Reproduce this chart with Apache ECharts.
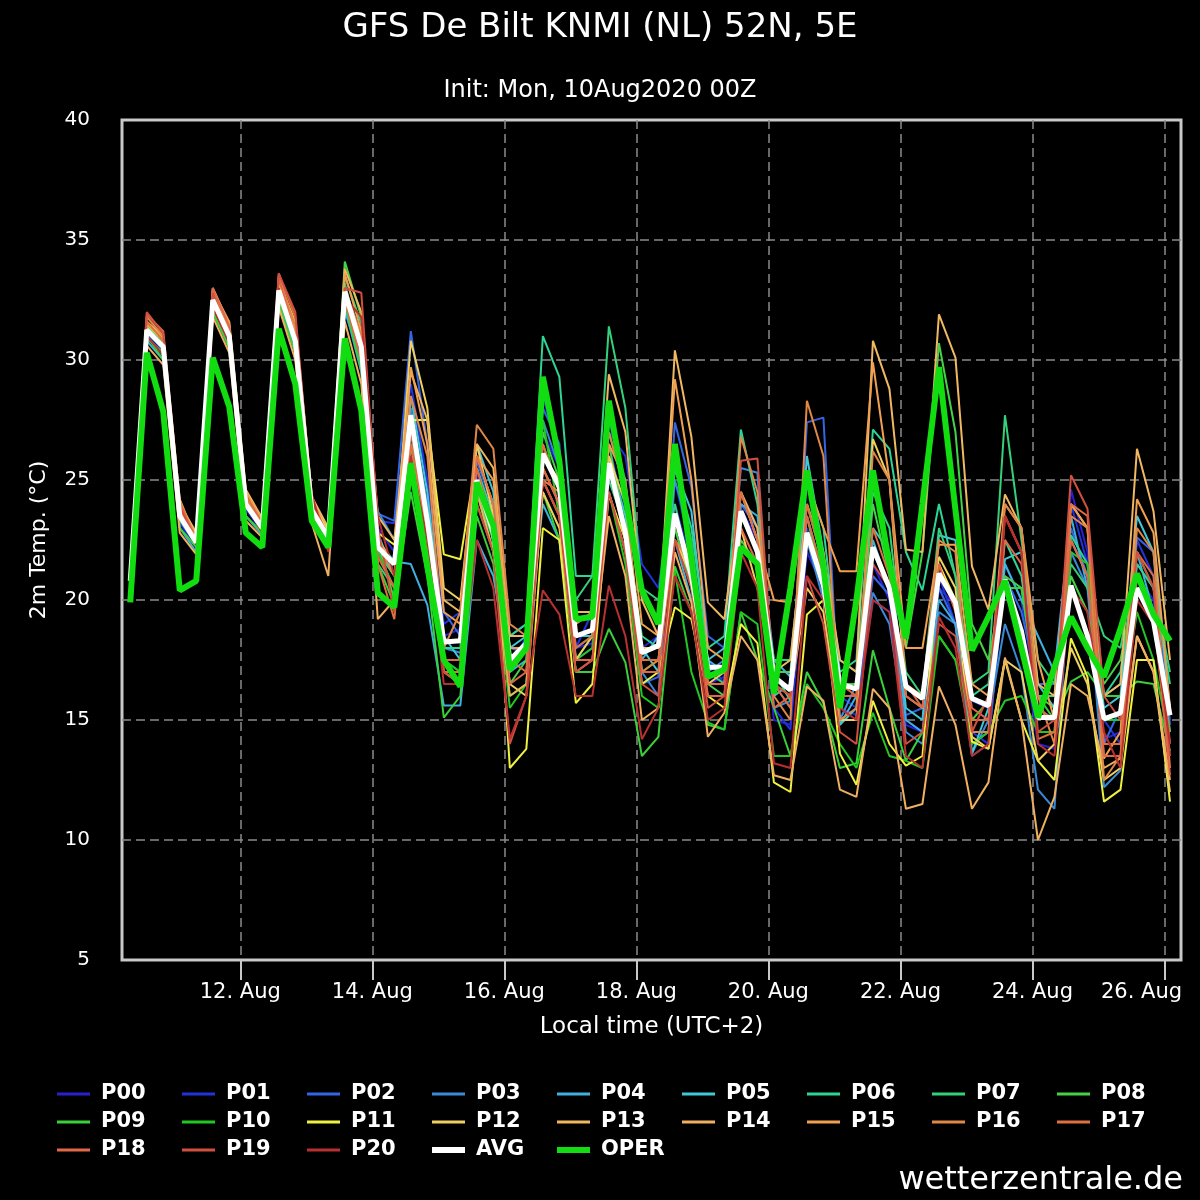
<!DOCTYPE html>
<html>
<head>
<meta charset="utf-8">
<title>GFS De Bilt KNMI (NL) 52N, 5E</title>
<script src="https://cdn.jsdelivr.net/npm/echarts@6.0.0/dist/echarts.min.js"></script>
<style>
  html, body { margin: 0; padding: 0; background: #000; }
  #chart { width: 1200px; height: 1200px; }
</style>
</head>
<body>
<div id="chart"></div>
<script>
// local time (UTC+2), hours after 10 Aug 2020 00:00
var hours = [8, 14, 20, 26, 32, 38, 44, 50, 56, 62, 68, 74, 80, 86, 92, 98,
  104, 110, 116, 122, 128, 134, 140, 146, 152, 158, 164, 170, 176, 182, 188, 194,
  200, 206, 212, 218, 224, 230, 236, 242, 248, 254, 260, 266, 272, 278, 284, 290,
  296, 302, 308, 314, 320, 326, 332, 338, 344, 350, 356, 362, 368, 374, 380, 386];

var tickHours = [48, 96, 144, 192, 240, 288, 336, 384];
var tickLabels = ['12. Aug', '14. Aug', '16. Aug', '18. Aug', '20. Aug', '22. Aug', '24. Aug', '26. Aug'];

var memberNames = ['P00', 'P01', 'P02', 'P03', 'P04', 'P05', 'P06', 'P07', 'P08', 'P09', 'P10',
  'P11', 'P12', 'P13', 'P14', 'P15', 'P16', 'P17', 'P18', 'P19', 'P20'];
var memberColors = ['#2a20d0', '#2233dd', '#3366e4', '#3a8ad8', '#3fb0e0', '#40c8d8', '#2ed494',
  '#33d27a', '#46d246', '#3ad03a', '#22c822', '#f0f040', '#f0d060', '#f0b860', '#f0b060',
  '#f0a050', '#e08848', '#e07040', '#e06848', '#d05040', '#b83030'];

// 2m temperature per member, 4 values per day (08, 14, 20, 02 local)
var p00 = [20.6,31.0,30.3,23.2, 22.2,32.2,30.8,23.8, 22.8,32.6,30.5,23.5, 22.3,32.3,29.8,23.0, 22.0,27.0,23.5,18.5, 18.8,25.2,23.0,17.2, 18.0,27.0,25.5,18.0, 18.2,26.5,23.5,18.0, 18.5,24.0,21.5,16.5, 16.8,23.8,22.5,15.0, 14.8,22.0,20.5,15.5, 15.2,21.5,20.0,14.8, 14.5,20.5,19.8,15.8, 15.5,21.0,18.5,14.0, 13.8,24.6,22.0,14.2, 14.5,21.0,20.0,15.0];
var p01 = [20.9,31.4,30.6,23.4, 22.5,32.4,31.0,23.9, 23.1,32.8,30.7,23.6, 22.8,32.5,30.2,23.3, 23.2,29.0,25.0,19.0, 19.5,25.5,23.5,17.0, 18.5,28.5,26.0,18.0, 19.5,27.0,26.0,21.5, 20.5,25.0,22.0,17.5, 16.5,24.5,23.0,15.5, 14.6,23.0,21.0,16.0, 15.5,20.0,19.5,15.0, 14.5,21.0,19.0,14.5, 14.0,21.5,20.0,15.5, 15.0,24.0,21.5,15.0, 14.0,22.5,21.0,15.2];
var p02 = [20.7,31.1,30.5,23.6, 22.4,32.6,31.1,24.2, 23.2,33.0,30.9,23.9, 22.9,33.0,29.5,23.6, 23.3,31.2,26.5,19.5, 18.5,25.8,23.8,18.0, 17.8,28.0,26.5,17.5, 18.0,27.5,25.0,16.5, 16.8,27.4,24.7,18.5, 18.0,24.0,23.0,16.5, 15.5,27.4,27.6,15.0, 15.0,21.0,20.2,15.2, 15.5,20.5,19.0,13.5, 14.0,21.0,19.5,16.5, 16.5,23.0,21.0,14.0, 15.5,22.6,22.0,14.8];
var p03 = [20.8,31.2,30.4,23.3, 22.3,32.3,30.9,23.9, 22.9,32.7,30.6,23.5, 22.5,32.0,30.0,23.7, 22.5,28.0,24.0,18.0, 17.8,24.5,22.5,18.5, 19.0,27.5,25.5,19.0, 19.5,27.0,24.5,17.0, 16.0,25.0,22.5,17.0, 17.5,25.5,25.3,15.5, 15.8,22.5,20.0,15.0, 16.5,20.3,19.0,14.5, 14.0,19.5,19.0,13.6, 15.0,19.0,17.0,12.1, 11.3,22.0,20.5,12.2, 12.9,21.5,20.5,14.5];
var p04 = [20.9,30.8,30.0,23.0, 22.0,32.0,30.6,23.5, 22.7,32.5,30.4,23.4, 22.5,32.2,29.5,22.5, 21.6,21.5,19.8,15.6, 15.6,22.5,21.0,17.0, 17.5,24.0,22.5,18.0, 18.5,24.5,22.0,17.5, 18.5,22.5,20.0,17.5, 17.0,24.0,23.5,17.5, 16.8,23.5,21.0,14.8, 16.0,22.5,20.5,15.0, 14.5,20.0,19.0,14.0, 14.5,21.5,20.0,18.5, 17.0,23.5,20.5,16.0, 16.5,22.0,19.5,15.5];
var p05 = [20.7,31.3,30.6,23.7, 22.6,32.7,31.2,24.1, 23.0,32.9,30.8,23.8, 22.6,33.0,31.0,22.8, 21.0,28.5,24.5,18.5, 17.5,26.5,24.5,18.0, 18.5,28.8,26.0,18.5, 18.5,26.0,23.5,18.0, 17.0,25.5,23.7,17.5, 18.0,24.5,22.5,16.0, 16.5,26.0,22.0,14.8, 15.5,23.0,22.0,15.5, 15.0,22.7,22.5,13.6, 15.5,21.7,22.0,16.5, 15.5,22.5,21.0,15.5, 16.0,23.5,22.0,15.5];
var p06 = [20.6,31.0,30.2,23.5, 22.5,32.4,31.0,24.0, 23.0,32.7,30.6,23.8, 22.7,33.2,30.5,22.0, 21.0,27.0,23.0,18.0, 18.0,25.5,23.5,18.5, 19.0,31.0,29.3,21.0, 21.0,25.0,23.0,18.5, 18.0,25.5,23.0,18.0, 18.5,27.1,24.0,17.0, 15.8,25.0,23.0,17.0, 17.5,27.1,26.3,22.0, 20.4,24.0,21.0,16.0, 16.5,22.5,21.0,16.0, 16.0,22.7,21.5,16.0, 17.0,21.5,20.5,16.5];
var p07 = [20.8,31.4,30.8,23.8, 22.4,32.5,31.1,24.3, 23.1,33.0,31.2,23.9, 22.4,33.5,31.5,21.5, 20.5,26.5,22.5,17.5, 17.0,24.5,22.0,17.0, 18.0,26.5,24.5,20.0, 21.0,31.4,28.0,20.5, 20.0,24.0,21.0,17.0, 16.5,23.5,22.0,17.5, 17.5,24.0,21.5,17.5, 17.0,24.5,23.0,17.0, 16.0,23.0,21.0,16.5, 17.0,27.7,22.5,17.5, 16.5,21.5,20.5,18.5, 18.0,22.0,20.5,17.0];
var p08 = [20.5,30.9,30.3,23.4, 22.3,32.3,30.8,23.9, 22.9,32.5,30.7,23.6, 22.5,34.1,31.8,22.5, 20.0,26.0,23.5,17.5, 17.5,24.5,22.5,16.5, 17.5,27.0,25.0,17.5, 18.5,26.5,23.0,17.0, 17.5,23.0,20.5,16.5, 16.0,22.5,21.5,17.0, 17.0,23.5,20.5,16.5, 16.5,24.0,21.0,18.0, 22.0,30.7,27.0,19.0, 17.5,21.0,20.5,16.0, 15.5,21.0,19.5,16.5, 17.5,21.0,19.0,14.5];
var p09 = [20.6,31.0,30.0,23.0, 22.2,32.0,30.5,23.5, 22.8,32.3,30.3,23.3, 22.3,32.4,29.6,21.5, 19.8,24.5,21.0,15.1, 16.0,23.5,21.5,16.0, 16.5,24.5,22.5,17.0, 17.0,18.8,17.4,13.5, 14.3,21.4,19.5,14.8, 14.6,19.5,17.5,15.5, 13.5,17.0,15.7,13.0, 13.2,17.9,15.5,13.3, 14.5,18.5,17.5,15.0, 15.8,20.5,20.5,16.0, 15.0,16.6,17.0,16.0, 16.0,16.6,16.5,13.7];
var p10 = [20.7,31.2,30.7,23.6, 22.4,32.5,31.2,24.0, 23.0,32.8,30.9,23.7, 22.6,32.8,30.5,22.0, 20.5,27.5,23.0,17.5, 17.0,24.0,22.0,15.5, 16.5,27.5,23.5,17.5, 18.0,24.5,21.5,16.0, 15.5,21.2,17.0,14.9, 14.6,19.5,19.0,13.5, 13.5,16.5,15.5,14.0, 13.0,15.3,13.5,13.3, 13.0,18.5,17.5,14.0, 14.5,15.8,16.0,14.5, 14.5,22.0,21.5,15.0, 15.0,19.5,17.5,14.0];
var p11 = [21.0,31.5,30.8,23.8, 22.7,32.8,31.3,24.3, 23.3,33.1,31.2,24.0, 22.9,32.6,30.4,22.8, 22.3,27.5,27.5,21.9, 21.7,26.0,24.0,13.0, 13.8,23.0,22.5,15.7, 16.5,24.4,22.5,16.5, 17.0,19.7,19.2,16.0, 15.5,19.0,18.2,12.4, 12.0,19.4,20.0,13.6, 12.3,15.8,14.0,13.1, 13.5,21.5,20.0,14.1, 13.8,17.5,15.0,13.3, 12.5,18.4,16.8,11.6, 12.1,17.5,17.5,11.6];
var p12 = [20.9,31.5,30.9,23.7, 22.6,32.7,31.4,24.4, 23.2,33.2,31.5,24.2, 22.8,32.5,30.8,22.5, 21.5,30.8,28.0,20.5, 20.0,26.5,23.5,16.5, 16.0,24.5,23.0,17.5, 18.5,26.0,24.0,18.0, 18.0,22.5,21.0,16.5, 17.0,23.0,20.5,16.5, 16.0,20.5,19.5,15.0, 15.0,26.7,25.0,16.0, 15.5,21.8,20.5,14.3, 13.8,17.5,17.0,13.3, 14.0,18.0,16.5,12.5, 13.0,18.5,17.0,12.0];
var p13 = [21.0,31.6,31.0,24.0, 22.8,33.0,31.5,24.6, 23.4,33.3,31.6,24.3, 23.0,33.8,32.0,23.5, 22.5,29.5,27.5,20.0, 19.5,26.5,25.5,18.5, 18.5,26.0,25.0,19.5, 19.5,29.4,27.0,20.0, 18.5,30.4,26.8,19.9, 19.2,24.5,23.0,17.0, 17.5,24.0,22.0,17.5, 17.0,30.8,28.8,22.1, 22.0,31.9,30.1,21.4, 19.6,24.4,23.0,16.5, 16.0,24.0,23.0,16.0, 16.5,26.3,23.7,17.5];
var p14 = [20.5,30.6,29.8,22.8, 21.9,31.8,30.3,23.3, 22.6,32.2,30.0,23.2, 21.0,31.6,29.0,19.2, 20.0,26.5,22.5,17.0, 16.5,24.5,22.0,16.0, 16.5,25.0,23.5,17.0, 17.5,23.5,21.0,15.0, 15.5,22.0,19.9,14.3, 15.3,18.5,17.5,12.7, 12.5,16.4,15.8,12.1, 11.8,16.3,15.5,11.3, 11.5,16.4,14.8,11.3, 12.4,17.6,15.0,10.0, 11.8,16.5,16.0,13.0, 13.4,18.5,17.0,12.5];
var p15 = [20.8,31.5,30.9,24.2, 22.5,32.9,31.6,24.5, 23.3,33.5,31.3,24.0, 22.6,33.6,31.2,22.5, 21.5,29.7,26.5,19.5, 19.0,26.0,25.0,18.0, 18.0,25.5,24.0,18.5, 18.8,26.5,25.0,19.0, 18.5,29.2,25.0,18.0, 17.5,24.5,22.5,20.0, 19.9,25.0,23.0,21.2, 21.2,29.9,25.0,18.0, 18.0,22.3,22.3,16.5, 16.0,24.0,23.0,17.5, 15.0,24.0,23.0,13.4, 14.5,24.2,22.8,15.5];
var p16 = [21.0,31.8,31.0,24.0, 22.6,32.9,31.3,24.2, 23.2,33.4,31.4,23.9, 22.5,33.0,31.0,22.3, 21.0,28.5,26.0,18.0, 19.5,27.3,26.3,19.0, 18.5,25.0,24.5,19.0, 19.5,27.0,24.5,17.0, 17.5,22.5,21.5,16.5, 16.5,26.8,24.5,16.0, 15.0,28.3,26.0,15.0, 15.5,26.2,25.0,16.5, 16.0,22.5,22.0,14.5, 14.5,24.0,23.0,16.0, 14.0,23.5,23.0,12.5, 13.5,23.0,22.0,13.0];
var p17 = [20.9,31.6,30.8,23.9, 22.5,32.6,31.2,24.4, 23.2,33.6,31.8,24.3, 22.5,33.0,30.8,21.5, 19.2,26.5,23.0,17.0, 17.0,26.0,24.0,17.5, 17.0,26.5,24.5,18.0, 18.5,25.5,22.5,17.5, 17.5,23.5,21.0,16.5, 16.5,24.5,22.5,16.5, 15.5,24.0,21.5,16.5, 16.0,23.0,21.0,16.5, 15.5,21.0,20.0,15.0, 15.0,23.5,22.0,14.2, 14.5,24.0,23.5,14.0, 14.0,22.0,21.0,14.0];
var p18 = [20.7,31.9,31.2,24.1, 22.4,33.0,31.4,24.2, 23.0,33.4,31.0,23.8, 22.4,32.5,30.0,21.8, 20.5,27.0,23.5,17.5, 17.5,25.5,23.0,16.5, 17.0,25.5,24.0,17.5, 17.5,24.5,22.0,17.0, 17.0,23.5,21.5,16.0, 16.0,23.0,21.5,15.5, 16.0,23.5,21.0,16.0, 16.0,22.0,20.5,16.0, 15.5,21.5,19.5,15.5, 15.0,22.5,21.5,15.5, 15.0,22.5,21.0,13.5, 13.5,21.0,19.5,12.7];
var p19 = [21.0,32.0,31.1,23.9, 22.4,32.8,31.0,24.0, 23.0,33.6,32.0,24.0, 22.7,33.0,32.8,23.0, 19.5,25.5,22.5,17.0, 16.5,24.0,22.0,14.0, 16.0,25.0,23.5,17.0, 17.5,24.5,22.0,16.5, 16.0,22.5,20.5,15.5, 16.0,25.8,25.9,16.5, 16.0,21.0,19.0,14.5, 14.0,21.5,20.5,14.0, 14.5,19.0,18.5,14.5, 16.0,23.5,22.0,14.5, 15.0,25.2,23.8,16.0, 15.0,22.0,20.5,13.5];
var p20 = [20.6,31.0,30.2,23.6, 22.3,32.2,30.7,24.0, 22.8,33.0,31.0,24.4, 22.0,32.6,31.8,23.5, 21.0,26.0,22.5,16.5, 16.5,22.5,20.5,14.2, 16.0,20.4,19.4,16.0, 16.0,20.6,18.5,14.2, 15.5,21.0,19.5,15.0, 15.5,22.0,20.5,13.2, 13.0,21.0,20.0,15.5, 15.0,20.0,19.5,13.5, 13.0,19.3,18.0,13.5, 14.0,23.5,22.0,14.0, 13.5,20.5,19.5,14.5, 13.0,20.0,19.0,14.0];
var members = [p00, p01, p02, p03, p04, p05, p06, p07, p08, p09, p10,
  p11, p12, p13, p14, p15, p16, p17, p18, p19, p20];

var avg = [20.8,31.25,30.55,23.5, 22.4,32.5,31.0,24.0, 23.0,32.9,30.8,23.75, 22.6,32.85,30.55,22.2, 21.5,27.7,23.3,18.25, 18.3,25.0,22.8,17.5, 18.2,26.1,24.7,18.5, 18.75,25.7,22.8,17.8, 18.1,23.6,21.0,17.2, 17.2,23.7,22.0,16.8, 16.25,22.8,20.6,16.5, 16.3,22.2,20.5,16.4, 15.9,21.1,19.9,15.9, 15.6,20.85,18.7,15.1, 15.1,20.6,18.5,15.05, 15.3,20.5,19.1,15.2];
var oper = [19.9,30.3,27.85,20.4, 20.8,30.1,28.05,22.8, 22.2,31.3,29.0,23.3, 22.2,30.9,27.9,20.3, 19.7,25.7,21.4,17.5, 16.4,24.9,23.1,17.1, 18.0,29.3,25.8,19.2, 19.3,28.3,24.3,20.4, 19.0,26.5,21.7,16.8, 17.1,22.2,21.5,16.1, 20.5,25.4,21.4,15.5, 20.0,25.4,21.5,18.4, 24.0,29.7,23.75,17.9, 19.3,20.8,18.0,15.1, 17.2,19.3,18.0,16.8, 18.8,21.1,19.4,18.3];

var FONT = 'DejaVu Sans';

function pairs(values) {
  return values.map(function (v, i) { return [hours[i], v]; });
}

var chart = echarts.init(document.getElementById('chart'));

var series = [];
memberNames.forEach(function (name, k) {
  series.push({
    name: name,
    type: 'line',
    data: pairs(members[k]),
    color: memberColors[k],
    symbol: 'none',
    lineStyle: { width: 2, color: memberColors[k] },
    silent: true
  });
});
series.push({
  name: 'AVG', type: 'line', data: pairs(avg), color: '#ffffff', symbol: 'none',
  lineStyle: { width: 5, color: '#ffffff' }, silent: true
});
series.push({
  name: 'OPER', type: 'line', data: pairs(oper), color: '#11dd11', symbol: 'none',
  lineStyle: { width: 6, color: '#11dd11' }, silent: true
});

var legendText = {
  color: '#ffffff', fontFamily: FONT, fontSize: 21, fontWeight: 'bold',
  width: 75, overflow: 'truncate', lineHeight: 22, padding: [0, 0, 0, 6]
};

var option = {
  backgroundColor: '#000000',
  animation: false,
  title: [
    { text: 'GFS De Bilt KNMI (NL) 52N, 5E', left: 'center', top: 11, padding: 0,
      textStyle: { color: '#ffffff', fontFamily: FONT, fontSize: 34, fontWeight: 'normal' } },
    { text: 'Init: Mon, 10Aug2020 00Z', left: 'center', top: 79, padding: 0,
      textStyle: { color: '#ffffff', fontFamily: FONT, fontSize: 24, fontWeight: 'normal' } },
    { text: 'wetterzentrale.de', right: 17, top: 1165, padding: 0,
      textStyle: { color: '#ffffff', fontFamily: FONT, fontSize: 32, fontWeight: 'normal' } }
  ],
  legend: [
    { data: memberNames, left: 57, top: 1083, width: 1130, orient: 'horizontal', padding: 0,
      icon: 'rect', itemWidth: 33, itemHeight: 3, itemGap: 6, selectedMode: false,
      textStyle: legendText },
    { data: ['AVG', 'OPER'], left: 432, top: 1139, orient: 'horizontal', padding: 0,
      icon: 'rect', itemWidth: 33, itemHeight: 6, itemGap: 6, selectedMode: false,
      textStyle: legendText }
  ],
  grid: {
    left: 122, right: 19, top: 120, bottom: 240, show: true, outerBoundsMode: 'none',
    borderColor: '#c8c8c8', borderWidth: 3, backgroundColor: '#000000'
  },
  xAxis: {
    type: 'value', min: 5, max: 390,
    axisLine: { show: false },
    axisTick: { show: true, length: 20, customValues: tickHours,
      lineStyle: { color: '#c8c8c8', width: 2 } },
    axisLabel: { customValues: tickHours, color: '#ffffff', fontFamily: FONT, fontSize: 21, margin: 22,
      formatter: function (v) {
        var k = tickHours.indexOf(v);
        // last label is pulled left inside the chart, as in the original
        return k === tickHours.length - 1 ? '{last|' + tickLabels[k] + '}' : tickLabels[k];
      },
      rich: { last: { color: '#ffffff', fontFamily: FONT, fontSize: 21, padding: [0, 46, 0, 0] } } },
    splitLine: { show: true, lineStyle: { color: '#8a8a8a', width: 1.5, type: [9, 5] } },
    name: 'Local time (UTC+2)', nameLocation: 'middle', nameGap: 56,
    nameTextStyle: { color: '#ffffff', fontFamily: FONT, fontSize: 23 }
  },
  yAxis: {
    type: 'value', min: 5, max: 40, interval: 5,
    axisLine: { show: false },
    axisTick: { show: false },
    axisLabel: { color: '#ffffff', fontFamily: FONT, fontSize: 20, margin: 32 },
    splitLine: { show: true, showMinLine: false, showMaxLine: false,
      lineStyle: { color: '#8a8a8a', width: 1.5, type: [9, 5] } },
    name: '2m Temp. (°C)', nameLocation: 'middle', nameGap: 72, nameRotate: 90,
    nameTextStyle: { color: '#ffffff', fontFamily: FONT, fontSize: 22 }
  },
  series: series
};

chart.setOption(option);
</script>
</body>
</html>
